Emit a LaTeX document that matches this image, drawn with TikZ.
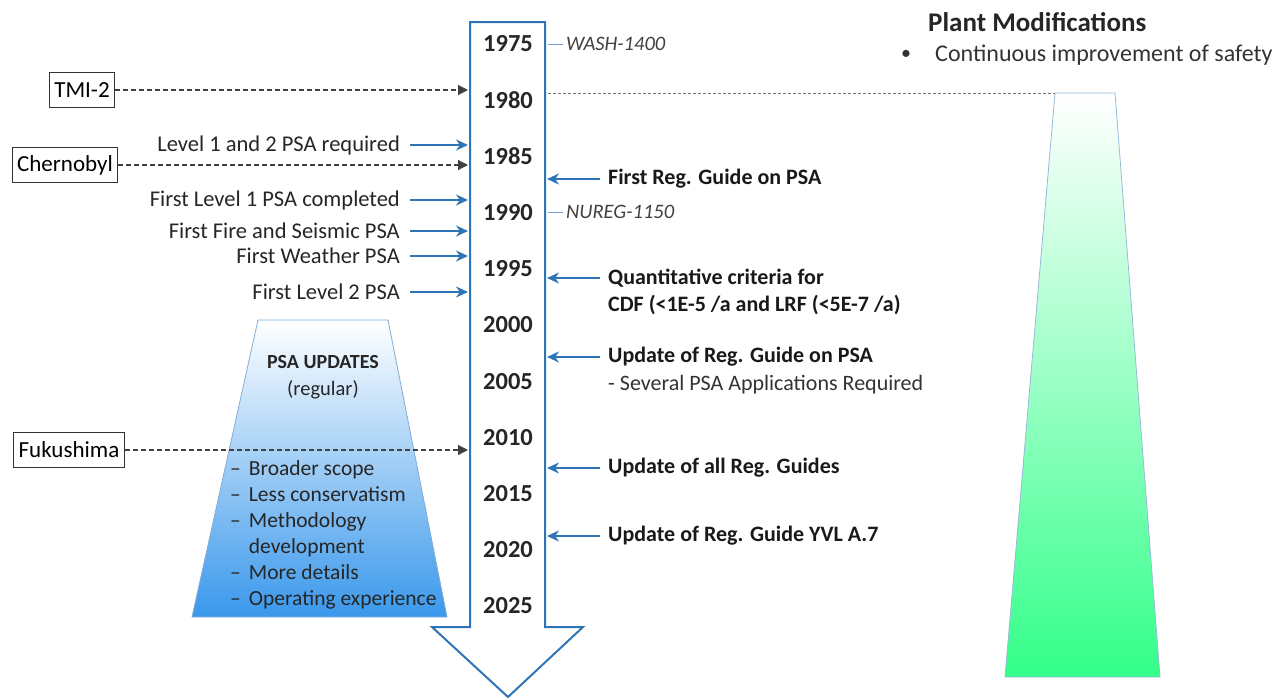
\documentclass[tikz,border=0pt]{standalone}
\usepackage{fontspec}
\setmainfont{Carlito}
\usetikzlibrary{arrows.meta, positioning}
\definecolor{lineblue}{HTML}{2E75B6}
\definecolor{psablue}{HTML}{3A98EC}
\definecolor{plantgreen}{HTML}{33FF8A}
\tikzset{>=Stealth}

\tikzset{
  year/.style={font=\fontsize{24.5}{28}\selectfont\bfseries, text=black!85},
  note/.style={font=\fontsize{20.5}{24}\selectfont\itshape, text=black!75, anchor=west, inner sep=0pt},
  evlabel/.style={font=\fontsize{22.5}{26}\selectfont, text=black!85, anchor=east, inner sep=0pt},
  reglabel/.style={font=\fontsize{22}{26}\selectfont\bfseries, text=black!90, anchor=west, inner sep=0pt},
  eventbox/.style={draw=black!80, line width=1pt, font=\fontsize{23}{26}\selectfont, inner xsep=5pt, minimum height=35pt},
  dasharrow/.style={black!75, line width=1.2pt, dash pattern=on 5pt off 3pt, -{Triangle[length=10pt, width=10pt]}},
  bluearrow/.style={lineblue, line width=2pt, -{Stealth[length=12pt, width=11pt]}}
}

\begin{document}
\begin{tikzpicture}[x=1pt, y=-1pt]
  \useasboundingbox (0,0) rectangle (1285,699);

  % edges of the timeline shaft
  \coordinate (spineL) at (470,0);
  \coordinate (spineR) at (545,0);

  % PSA updates trapezoid
  \shadedraw[draw=lineblue!60, line width=0.8pt, top color=white, bottom color=psablue]
    (258,320) -- (388,320) -- (447,617) -- (192,617) -- cycle;
  \node[font=\fontsize{20}{24}\selectfont\bfseries, text=black!85] (psa) at (323,362) {PSA UPDATES};
  \node[font=\fontsize{20.5}{24}\selectfont, text=black!85, below=5pt of psa] (psareg) {(regular)};
  \node[font=\fontsize{21.5}{26}\selectfont, text=black!85, anchor=north west, inner sep=0pt] (psalist) at (230,457)
    {\begin{tabular}{@{}l@{\hspace{8pt}}l@{}}
      -- & Broader scope\\
      -- & Less conservatism\\
      -- & Methodology\\
         & development\\
      -- & More details\\
      -- & Operating experience
    \end{tabular}};

  % plant modifications trapezoid
  \shadedraw[draw=lineblue!50, line width=0.8pt, top color=white, bottom color=plantgreen]
    (1055,93) coordinate (pm) -- (1115,93) -- (1160,677) -- (1005,677) -- cycle;
  \node[font=\fontsize{27}{30}\selectfont\bfseries, text=black!85, anchor=west, inner sep=0pt] (pmtitle) at (928,22) {Plant Modifications};
  \node[font=\fontsize{20}{24}\selectfont, text=black!80, anchor=west, inner sep=0pt] (pmbullet) at (901,55) {\textbullet};
  \node[font=\fontsize{24}{28}\selectfont, text=black!80, anchor=west, inner sep=0pt] (pmtext) at (935,55) {Continuous improvement of safety};

  % timeline arrow
  \draw[lineblue, line width=2pt, fill=white]
    (470,22) -- (545,22) -- (545,627) -- (583,627) -- (508,697) -- (432,627) -- (470,627) -- cycle;

  \foreach \yr [count=\i from 0] in {1975,1980,1985,1990,1995,2000,2005,2010,2015,2020,2025}
    \node[year] (y\yr) at (508, 44+56.2*\i) {\yr};

  % reference studies
  \node[note] (wash) at (566,44) {WASH-1400};
  \node[note] (nureg) at (566,212) {NUREG-1150};
  \draw[lineblue!70, line width=0.8pt] (spineR |- wash.west) ++(3,0) -- ([xshift=-3pt]wash.west);
  \draw[lineblue!70, line width=0.8pt] (spineR |- nureg.west) ++(3,0) -- ([xshift=-3pt]nureg.west);

  % accidents
  \node[eventbox] (tmi) at (82,90) {TMI-2};
  \node[eventbox] (cher) at (65,165) {Chernobyl};
  \node[eventbox] (fuku) at (69,450) {Fukushima};
  \draw[dasharrow, shorten >=2pt] (tmi.east) -- (tmi.east -| spineL);
  \draw[dasharrow, shorten >=2pt] (cher.east) -- (cher.east -| spineL);
  \draw[dasharrow, shorten >=2pt] (fuku.east) -- (fuku.east -| spineL);

  % PSA milestones
  \node[evlabel] (lvl12) at (400,145) {Level 1 and 2 PSA required};
  \node[evlabel] (lvl1) at (400,200) {First Level 1 PSA completed};
  \node[evlabel] (fire) at (400,231) {First Fire and Seismic PSA};
  \node[evlabel] (weather) at (400,256) {First Weather PSA};
  \node[evlabel] (lvl2) at (400,292) {First Level 2 PSA};
  \foreach \n in {lvl12,lvl1,fire,weather,lvl2}
    \draw[bluearrow, shorten >=2pt] ([xshift=10pt]\n.east) -- (\n.east -| spineL);

  % regulatory guides
  \node[reglabel] (guide1) at (608,179) {First Reg. Guide on PSA};
  \node[reglabel] (crit) at (608,278) {Quantitative criteria for};
  \node[reglabel, below=8pt of crit.south west, anchor=north west] (crit2) {CDF (<1E-5 /a and LRF (<5E-7 /a)};
  \node[reglabel] (guide2) at (608,357) {Update of Reg. Guide on PSA};
  \node[reglabel, font=\fontsize{22}{26}\selectfont, text=black!80, below=8pt of guide2.south west, anchor=north west] (apps) {- Several PSA Applications Required};
  \node[reglabel] (guide3) at (608,468) {Update of all Reg. Guides};
  \node[reglabel] (guide4) at (608,536) {Update of Reg. Guide YVL A.7};
  \foreach \n in {guide1,crit,guide2,guide3,guide4}
    \draw[bluearrow, shorten >=2pt] ([xshift=-8pt]\n.west) -- (\n.west -| spineR);

  % link 1980 to the plant modifications
  \draw[black!55, line width=0.8pt, dash pattern=on 3pt off 2pt] (spineR |- pm) ++(3,0) -- (pm);
\end{tikzpicture}
\end{document}
